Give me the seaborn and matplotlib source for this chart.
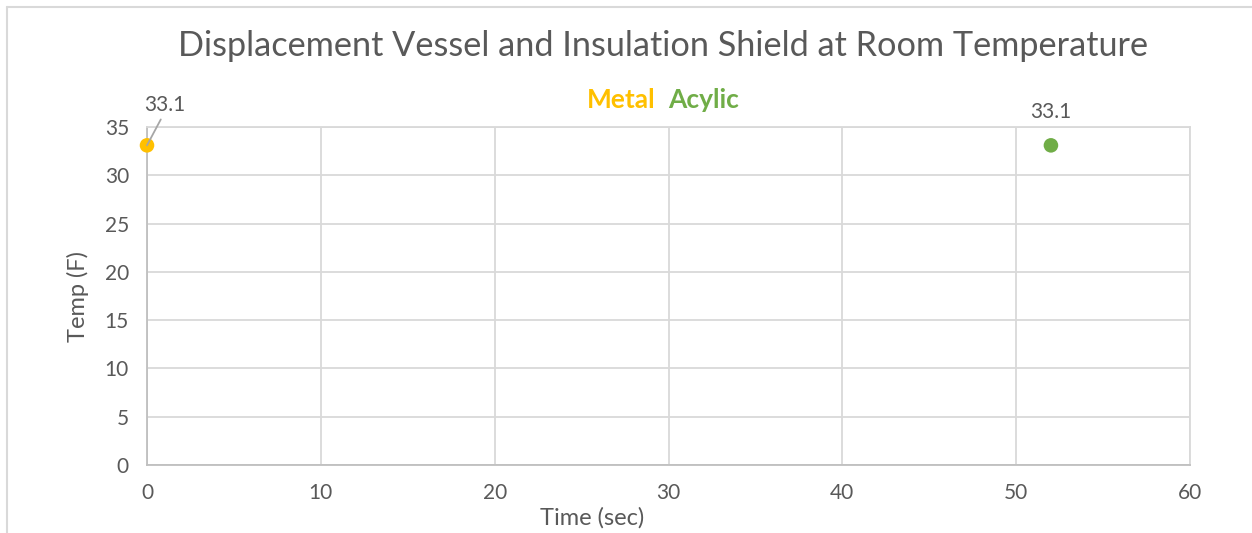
import pandas as pd
import numpy as np
import matplotlib
matplotlib.use('Agg')
import matplotlib.pyplot as plt
import seaborn as sns
from matplotlib.lines import Line2D

# 数据
series_names = ['Metal', 'Acylic']
time_sec = [0, 52]
temp_f = [33.1, 33.1]
series_colors = ['#FFC000', '#70AD47']
x_ticks = [0, 10, 20, 30, 40, 50, 60]
y_ticks = [0, 5, 10, 15, 20, 25, 30, 35]

df = pd.DataFrame({'series': series_names, 'time': time_sec, 'temp': temp_f})

sns.set_style('white')
plt.rcParams['font.family'] = ['Lato', 'DejaVu Sans']
text_color = '#595959'
grid_color = '#d9d9d9'

fig = plt.figure(figsize=(12.52, 5.33), dpi=100)
ax = fig.add_axes([147 / 1252, 1 - 465 / 533, 1043 / 1252, 338 / 533])

sns.scatterplot(data=df, x='time', y='temp', hue='series',
                palette=dict(zip(series_names, series_colors)),
                s=110, edgecolor='none', legend=False, ax=ax, zorder=3,
                clip_on=False)

ax.set_xlim(0, 60)
ax.set_ylim(0, 35)
ax.set_xticks(x_ticks)
ax.set_yticks(y_ticks)
ax.grid(True, color=grid_color, linewidth=1.3)
ax.set_axisbelow(True)
for sp in ax.spines.values():
    sp.set_color(grid_color)
    sp.set_linewidth(1.3)
ax.spines['bottom'].set_color('#bfbfbf')
ax.spines['left'].set_color('#bfbfbf')
ax.tick_params(length=0, labelsize=15, colors=text_color, pad=13)

ax.set_xlabel('Time (sec)', fontsize=17, color=text_color)
ax.set_ylabel('Temp (F)', fontsize=17, color=text_color)
ax.xaxis.set_label_coords((592 - 147) / 1043, -0.125)
ax.yaxis.set_label_coords(-0.056, 0.5)

# 数据标签
for name, x, y in zip(series_names, time_sec, temp_f):
    if name == 'Metal':
        ax.annotate(f'{y}', xy=(x, y), xytext=(1.05, 36.25), fontsize=15,
                    color=text_color, ha='center', va='bottom', zorder=5,
                    arrowprops=dict(arrowstyle='-', color='#a6a6a6', lw=1.3,
                                    relpos=(0.45, 0), shrinkA=1, shrinkB=0),
                    annotation_clip=False)
    else:
        ax.annotate(f'{y}', xy=(x, y), xytext=(0, 17), textcoords='offset points',
                    fontsize=15, color=text_color, ha='center', va='bottom')

# 图例
handles = [Line2D([], [], linestyle='none', marker=None) for _ in series_names]
leg = fig.legend(handles, series_names, loc='center', bbox_to_anchor=(663 / 1252, 1 - 100 / 533),
                 ncol=2, frameon=False, handlelength=0, handletextpad=0,
                 columnspacing=0.5, prop={'size': 19, 'weight': 'bold'})
for t, c in zip(leg.get_texts(), series_colors):
    t.set_color(c)

fig.text(663 / 1252, 1 - 46 / 533, 'Displacement Vessel and Insulation Shield at Room Temperature',
         ha='center', va='center', fontsize=24.7, color=text_color)

# 图表区域边框
fig.add_artist(Line2D([7 / 1252, 1], [1 - 7 / 533, 1 - 7 / 533], color=grid_color, lw=1.5))
fig.add_artist(Line2D([7 / 1252, 7 / 1252], [0, 1 - 7 / 533], color=grid_color, lw=1.5))

fig.savefig('out.png', dpi=100)
